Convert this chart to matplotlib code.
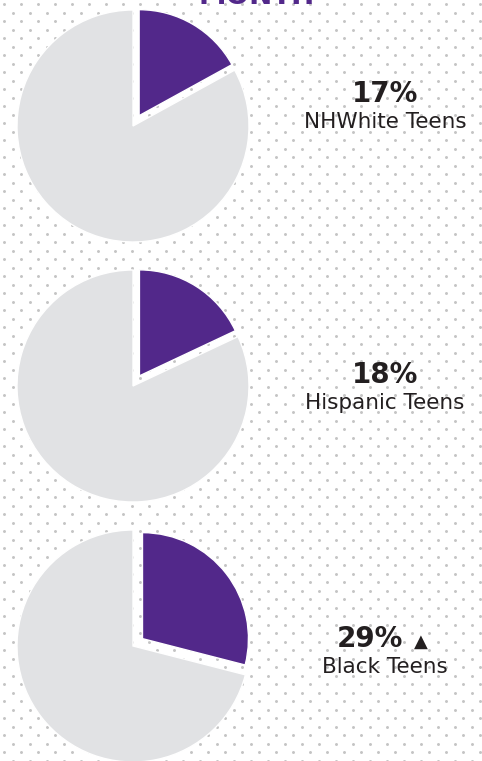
import matplotlib.pyplot as plt
import numpy as np

# data
groups = ["NHWhite Teens", "Hispanic Teens", "Black Teens"]
percents = [17, 18, 29]
significant = [False, False, True]
heading = "MONTH"

PURPLE = "#52288a"
GRAY = "#e1e2e4"
TEXT = "#231f20"
DOT = "#c4c4c4"

W, H = 482, 761
R = 116  # pie radius in px

pie_cx = 133
pie_cy = [126, 386, 646]
text_x = 385
pct_y = [102, 383, 647]
label_y = [128, 409, 673]


def draw_background(fig):
    bg = fig.add_axes([0, 0, 1, 1])
    bg.set_xlim(0, W)
    bg.set_ylim(H, 0)
    bg.axis("off")

    # halftone dot texture
    rows = np.arange(4, H, 8.5)
    for i, y in enumerate(rows):
        xs = np.arange(4 + (8.5 if i % 2 else 0), W, 17)
        bg.scatter(xs, np.full_like(xs, y), s=4.5, color=DOT, linewidths=0)

    return bg


def draw_pie(fig, cy, pct):
    half = 140
    ax = fig.add_axes([(pie_cx - half) / W, (H - cy - half) / H,
                       2 * half / W, 2 * half / H])
    wedges, _ = ax.pie(
        [pct, 100 - pct],
        colors=[PURPLE, GRAY],
        startangle=90,
        counterclock=False,
        explode=[12 / R, 0],
        wedgeprops={"edgecolor": "white", "linewidth": 1},
    )
    wedges[0].set_radius(106 / R)
    ax.set_xlim(-half / R, half / R)
    ax.set_ylim(-half / R, half / R)
    ax.set_aspect("equal")
    ax.axis("off")


def main():
    fig = plt.figure(figsize=(W / 100, H / 100), dpi=100)
    bg = draw_background(fig)

    # heading runs off the top edge in the reference, only its foot shows
    bg.text(257, 4, heading, ha="center", va="baseline", fontsize=20,
            fontweight="bold", color=PURPLE)

    for i, (group, pct) in enumerate(zip(groups, percents)):
        draw_pie(fig, pie_cy[i], pct)

        if significant[i]:
            bg.text(text_x - 15, pct_y[i], f"{pct}%", ha="center", va="baseline",
                    fontsize=20, fontweight="bold", color=TEXT)
            bg.text(text_x + 36, pct_y[i], "\u25b2", ha="center", va="baseline",
                    fontsize=13, color=TEXT)
        else:
            bg.text(text_x, pct_y[i], f"{pct}%", ha="center", va="baseline",
                    fontsize=20, fontweight="bold", color=TEXT)

        bg.text(text_x, label_y[i], group, ha="center", va="baseline",
                fontsize=15.5, color=TEXT)

    fig.savefig("out.png", dpi=100, facecolor="white")


if __name__ == "__main__":
    main()
